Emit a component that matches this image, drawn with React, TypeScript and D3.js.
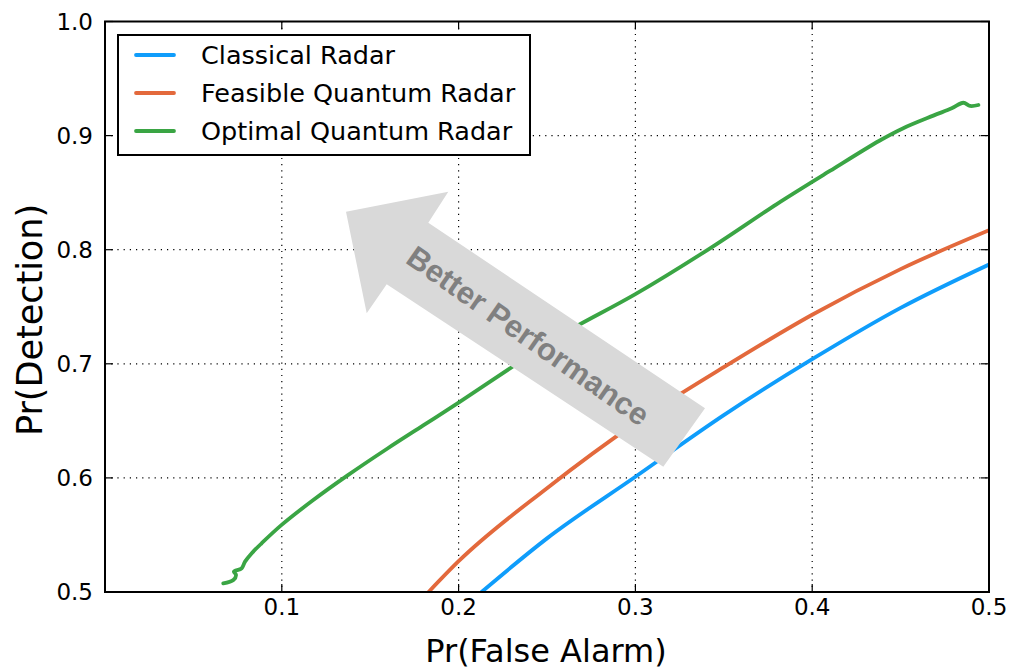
import React from "react";
import * as d3 from "d3";

const seriesNames = ["Classical Radar", "Feasible Quantum Radar", "Optimal Quantum Radar"];
const seriesColors = ["#0f9dfb", "#e3693c", "#3aa544"];

const classicalX = [0.213, 0.25, 0.3, 0.35, 0.4, 0.45, 0.5];
const classicalY = [0.5, 0.547, 0.601, 0.655, 0.704, 0.749, 0.787];

const feasibleX = [0.183, 0.2, 0.25, 0.3, 0.35, 0.4, 0.45, 0.5];
const feasibleY = [0.5, 0.527, 0.591, 0.648, 0.697, 0.743, 0.783, 0.817];

const optimalX = [0.0669, 0.0726, 0.0741, 0.0729, 0.0773, 0.0792, 0.083, 0.0886, 0.0999, 0.1178, 0.137, 0.16, 0.18, 0.2, 0.232, 0.26, 0.3, 0.342, 0.38, 0.41, 0.438, 0.4515, 0.4685, 0.4789, 0.4855, 0.4893, 0.494];
const optimalY = [0.5076, 0.5105, 0.515, 0.5178, 0.5208, 0.5266, 0.534, 0.5427, 0.5588, 0.5806, 0.602, 0.626, 0.646, 0.666, 0.699, 0.727, 0.761, 0.801, 0.84, 0.869, 0.8955, 0.9065, 0.9175, 0.9239, 0.9288, 0.926, 0.9268];

const xTicks = [0.1, 0.2, 0.3, 0.4, 0.5];
const yTicks = [0.5, 0.6, 0.7, 0.8, 0.9, 1.0];

const W = 1011, H = 670;
const L = 105, R = 989, T = 21.5, B = 592;

export default function App() {
  const x = d3.scaleLinear().domain([0, 0.5]).range([L, R]);
  const y = d3.scaleLinear().domain([0.5, 1.0]).range([B, T]);
  const line = d3.line<[number, number]>().x(d => x(d[0])).y(d => y(d[1])).curve(d3.curveMonotoneX);
  const lineFree = d3.line<[number, number]>().x(d => x(d[0])).y(d => y(d[1])).curve(d3.curveCatmullRom.alpha(0.5));
  const series = [
    { xs: classicalX, ys: classicalY, gen: line },
    { xs: feasibleX, ys: feasibleY, gen: line },
    { xs: optimalX, ys: optimalY, gen: lineFree },
  ];
  const font = "DejaVu Sans, sans-serif";
  const tickLen = 8;
  const arrow = [[346, 211.7], [448.3, 191.7], [428.3, 222.7], [705, 408.3], [663.3, 466.7], [386.7, 284.3], [366.7, 313.3]];
  return (
    <svg width={W} height={H} style={{ position: "absolute", left: 0, top: 0 }}>
      <rect width={W} height={H} fill="#fff" />
      <defs>
        <clipPath id="clip"><rect x={L} y={T} width={R - L} height={B - T} /></clipPath>
      </defs>
      {xTicks.map(t => (
        <line key={"gx" + t} x1={x(t)} x2={x(t)} y1={T} y2={B} stroke="#000" strokeWidth={1.2} strokeDasharray="1.2,5" />
      ))}
      {yTicks.map(t => (
        <line key={"gy" + t} x1={L} x2={R} y1={y(t)} y2={y(t)} stroke="#000" strokeWidth={1.2} strokeDasharray="1.2,5" />
      ))}
      <g clipPath="url(#clip)">
        {series.map((s, i) => (
          <path key={i} d={s.gen(s.xs.map((v, j) => [v, s.ys[j]] as [number, number])) || ""} fill="none" stroke={seriesColors[i]} strokeWidth={3.8} strokeLinejoin="round" strokeLinecap="round" />
        ))}
      </g>
      <polygon points={arrow.map(p => p.join(",")).join(" ")} fill="#d9d9d9" />
      <text x={528} y={336} transform="rotate(35,528,336)" textAnchor="middle" dominantBaseline="central" fontFamily="Liberation Sans, Arial, sans-serif" fontWeight="bold" fontSize={31} fill="#808080">Better Performance</text>
      {xTicks.map(t => (
        <g key={"tx" + t}>
          <line x1={x(t)} x2={x(t)} y1={B} y2={B - tickLen} stroke="#000" strokeWidth={1.2} />
          <line x1={x(t)} x2={x(t)} y1={T} y2={T + tickLen} stroke="#000" strokeWidth={1.2} />
          <text x={x(t)} y={607} textAnchor="middle" dominantBaseline="central" fontFamily={font} fontSize={23}>{t.toFixed(1)}</text>
        </g>
      ))}
      {yTicks.map(t => (
        <g key={"ty" + t}>
          <line x1={L} x2={L + tickLen} y1={y(t)} y2={y(t)} stroke="#000" strokeWidth={1.2} />
          <line x1={R} x2={R - tickLen} y1={y(t)} y2={y(t)} stroke="#000" strokeWidth={1.2} />
          <text x={93} y={y(t)} textAnchor="end" dominantBaseline="central" fontFamily={font} fontSize={23}>{t.toFixed(1)}</text>
        </g>
      ))}
      <rect x={L} y={T} width={R - L} height={B - T} fill="none" stroke="#000" strokeWidth={2} />
      <rect x={118} y={35} width={412} height={120} fill="#fff" stroke="#000" strokeWidth={2} />
      {seriesNames.map((n, i) => (
        <g key={n}>
          <line x1={136} x2={174} y1={55 + i * 38} y2={55 + i * 38} stroke={seriesColors[i]} strokeWidth={3.8} strokeLinecap="round" />
          <text x={201} y={55 + i * 38} dominantBaseline="central" fontFamily={font} fontSize={25.5}>{n}</text>
        </g>
      ))}
      <text x={546} y={662} textAnchor="middle" fontFamily={font} fontSize={32}>Pr(False Alarm)</text>
      <text transform={`translate(42,320) rotate(-90)`} textAnchor="middle" fontFamily={font} fontSize={35}>Pr(Detection)</text>
    </svg>
  );
}
